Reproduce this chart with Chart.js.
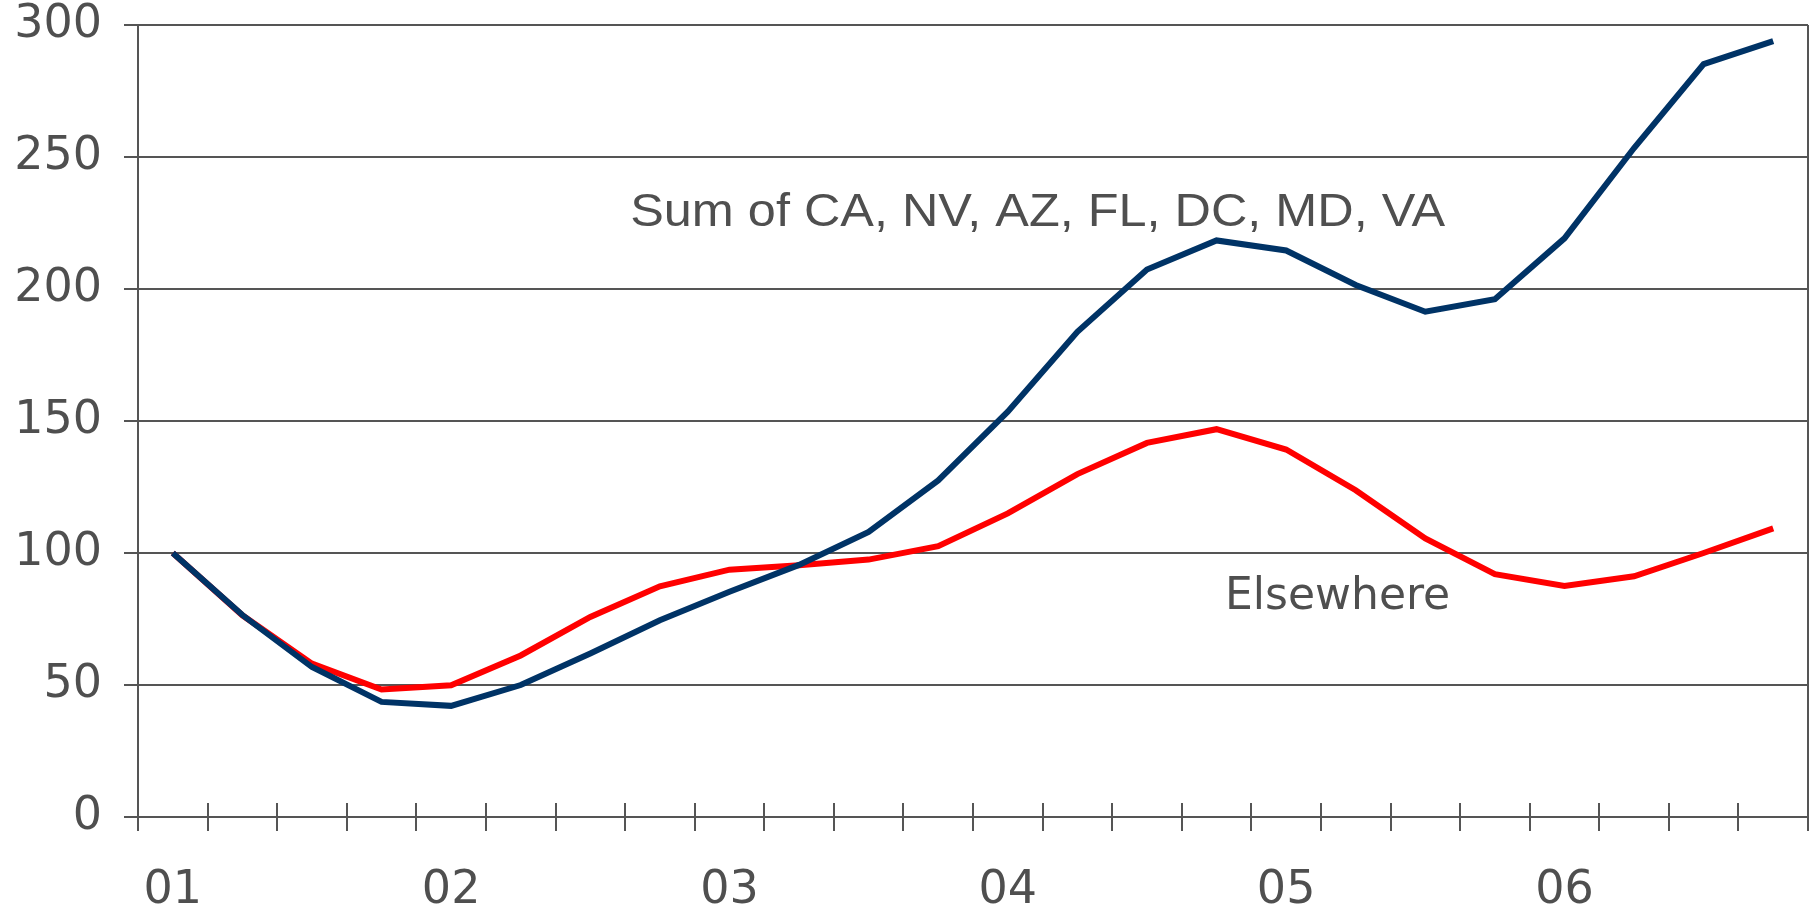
<!DOCTYPE html>
<html>
<head>
<meta charset="utf-8">
<script src="https://cdn.jsdelivr.net/npm/chart.js@4.4.1/dist/chart.umd.min.js"></script>
<style>
  html, body { margin: 0; padding: 0; background: #fff; }
  #wrap { width: 1812px; height: 906px; position: relative; }
</style>
</head>
<body>
<div id="wrap"><canvas id="priceChart"></canvas></div>
<script>
// quarterly index, 2001 Q1 = 100
const quarters = [
  '01Q1', '01Q2', '01Q3', '01Q4',
  '02Q1', '02Q2', '02Q3', '02Q4',
  '03Q1', '03Q2', '03Q3', '03Q4',
  '04Q1', '04Q2', '04Q3', '04Q4',
  '05Q1', '05Q2', '05Q3', '05Q4',
  '06Q1', '06Q2', '06Q3', '06Q4'
];
const sumStates = [100, 76.5, 56.8, 43.6, 42.1, 50, 61.9, 74.5, 85.3, 95.5, 108, 127.5,
  153.5, 183.8, 207.4, 218.4, 214.6, 201.5, 191.4, 196.1, 219.2, 253.4, 285.2, 293.9];
const elsewhere = [100, 76.4, 58.1, 48.3, 49.9, 61.2, 75.8, 87.4, 93.7, 95.4, 97.5, 102.6,
  115, 129.9, 141.7, 146.9, 139.2, 123.8, 105.5, 92, 87.5, 91.2, 100, 109.3];
const yTicks = [0, 50, 100, 150, 200, 250, 300];

const seriesNames = ['Sum of CA, NV, AZ, FL, DC, MD, VA', 'Elsewhere'];
// where the series names sit: category index, value
const noteAt = [12.43, 16.74];
const noteValue = [228.6, 83.1];

const gridColor = '#555555';
const textColor = '#4f4f4f';

const axisFrame = {
  id: 'axisFrame',
  afterDraw(chart) {
    const { ctx, chartArea, scales } = chart;
    const x = scales.x;
    const step = x.getPixelForValue(1) - x.getPixelForValue(0);
    ctx.save();
    ctx.strokeStyle = gridColor;
    ctx.lineWidth = 2;
    ctx.beginPath();
    for (let i = 0; i <= quarters.length; i++) {
      const px = Math.round(x.getPixelForValue(i) - step / 2);
      ctx.moveTo(px, chartArea.bottom - 14);
      ctx.lineTo(px, chartArea.bottom);
    }
    ctx.moveTo(chartArea.right, chartArea.top);
    ctx.lineTo(chartArea.right, chartArea.bottom);
    ctx.stroke();
    ctx.restore();
  }
};

const seriesNotes = {
  id: 'seriesNotes',
  afterDatasetsDraw(chart) {
    const { ctx, scales } = chart;
    ctx.save();
    ctx.fillStyle = textColor;
    ctx.textAlign = 'center';
    ctx.textBaseline = 'middle';

    // the long label is a touch wider than plain Arial metrics
    let px = scales.x.getPixelForValue(noteAt[0]);
    let py = scales.y.getPixelForValue(noteValue[0]);
    ctx.font = '47px "Liberation Sans", Arial, sans-serif';
    const w = ctx.measureText(seriesNames[0]).width;
    ctx.translate(px, py);
    ctx.scale(815 / w, 1);
    ctx.fillText(seriesNames[0], 0, 0);
    ctx.setTransform(1, 0, 0, 1, 0, 0);

    px = scales.x.getPixelForValue(noteAt[1]);
    py = scales.y.getPixelForValue(noteValue[1]);
    ctx.font = '44px "DejaVu Sans", sans-serif';
    ctx.fillText(seriesNames[1], px, py);
    ctx.restore();
  }
};

Chart.defaults.font.family = '"DejaVu Sans", sans-serif';
Chart.defaults.font.size = 46;
Chart.defaults.color = textColor;

const ctx = document.getElementById('priceChart').getContext('2d');
const priceChart = new Chart(ctx, {
  type: 'line',
  data: {
    labels: quarters,
    datasets: [
      {
        label: seriesNames[0],
        data: sumStates,
        borderColor: '#003366',
        borderWidth: 6,
        pointRadius: 0,
        tension: 0
      },
      {
        label: seriesNames[1],
        data: elsewhere,
        borderColor: '#ff0000',
        borderWidth: 6,
        pointRadius: 0,
        tension: 0
      }
    ]
  },
  options: {
    responsive: true,
    maintainAspectRatio: false,
    animation: false,
    layout: {
      autoPadding: false,
      padding: { top: 25, right: 4, left: 0, bottom: 0 }
    },
    plugins: {
      legend: { display: false },
      tooltip: { enabled: false }
    },
    scales: {
      x: {
        offset: true,
        grid: {
          offset: true,
          drawOnChartArea: false,
          color: gridColor,
          lineWidth: 2,
          tickLength: 14
        },
        border: { display: true, color: gridColor, width: 2 },
        ticks: {
          autoSkip: false,
          maxRotation: 0,
          padding: 32,
          callback: function (value, index) {
            return index % 4 === 0 ? quarters[index].slice(0, 2) : '';
          }
        },
        afterFit(scale) { scale.height = 89; }
      },
      y: {
        min: yTicks[0],
        max: yTicks[yTicks.length - 1],
        grid: {
          color: gridColor,
          lineWidth: 2,
          tickLength: 14
        },
        border: { display: true, color: gridColor, width: 2 },
        ticks: {
          stepSize: yTicks[1] - yTicks[0],
          padding: 22
        },
        afterFit(scale) {
          scale.width = 138;
          scale.paddingTop = 0;
          scale.paddingBottom = 0;
        }
      }
    }
  },
  plugins: [axisFrame, seriesNotes]
});
</script>
</body>
</html>
